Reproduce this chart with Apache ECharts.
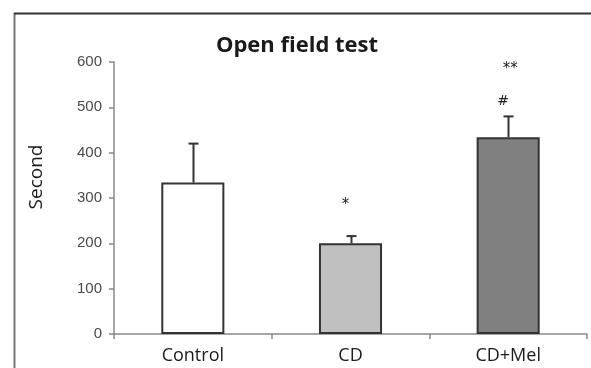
<!DOCTYPE html>
<html>
<head>
<meta charset="utf-8">
<script src="https://cdn.jsdelivr.net/npm/echarts@6/dist/echarts.min.js"></script>
<style>
    html, body { margin: 0; padding: 0; background: #fff; }
    #chart { width: 591px; height: 368px; }
</style>
</head>
<body>
<div id="chart"></div>
<script>
// data
const groups = ['Control', 'CD', 'CD+Mel']
const means = [334, 200, 434]
const errTop = [420, 216, 480]
const barColors = ['#ffffff', '#c0c0c0', '#808080']
const yTicks = [0, 100, 200, 300, 400, 500, 600]

// significance marks
const markGroup = ['CD', 'CD+Mel', 'CD+Mel']
const markText = ['*', '#', '**']
const markY = [290, 513, 592]

const el = document.getElementById('chart')
const chart = echarts.init(el)

const option = {
    animation: false,
    title: {
        text: 'Open field test',
        left: 292,
        top: 30,
        textAlign: 'center',
        textStyle: {
            fontFamily: 'Open Sans',
            fontWeight: 'bold',
            fontSize: 22,
            color: '#1a1a1a'
        }
    },
    grid: {
        left: 114,
        right: 4,
        top: 62,
        bottom: 34
    },
    graphic: [
        // outer frame of the figure panel
        {
            type: 'line',
            shape: { x1: 14.5, y1: 13, x2: 14.5, y2: 368 },
            style: { stroke: '#777', lineWidth: 2 }
        },
        {
            type: 'line',
            shape: { x1: 14, y1: 13.5, x2: 591, y2: 13.5 },
            style: { stroke: '#333', lineWidth: 2 }
        },
        {
            type: 'text',
            x: 37,
            y: 177,
            rotation: Math.PI / 2,
            style: {
                text: 'Second',
                fontFamily: 'Open Sans',
                fontSize: 19,
                fill: '#1a1a1a',
                align: 'center',
                verticalAlign: 'middle'
            }
        }
    ],
    xAxis: {
        type: 'category',
        data: groups,
        axisLine: { lineStyle: { color: '#888', width: 1.5 } },
        axisTick: { show: true, length: 5, lineStyle: { color: '#888', width: 1.5 } },
        axisLabel: {
            margin: 13,
            fontFamily: 'Open Sans',
            fontSize: 18,
            color: '#1a1a1a'
        }
    },
    yAxis: {
        type: 'value',
        min: yTicks[0],
        max: yTicks[yTicks.length - 1],
        interval: 100,
        splitLine: { show: false },
        axisLine: { show: true, lineStyle: { color: '#888', width: 1.5 } },
        axisTick: { show: true, length: 5, lineStyle: { color: '#888', width: 1.5 } },
        axisLabel: {
            margin: 12,
            fontFamily: 'Liberation Sans',
            fontSize: 15,
            color: '#4a4a4a'
        }
    },
    series: [
        {
            type: 'bar',
            barWidth: '40%',
            data: means.map((v, i) => ({
                value: v,
                itemStyle: { color: barColors[i] }
            })),
            itemStyle: { borderColor: '#333', borderWidth: 2 },
            z: 2
        },
        {
            // error bars (upper only)
            type: 'custom',
            z: 3,
            data: means.map((v, i) => [i, v, errTop[i]]),
            renderItem: function (params, api) {
                const base = api.coord([api.value(0), api.value(1)])
                const top = api.coord([api.value(0), api.value(2)])
                const x = Math.round(base[0]) + 0.5
                const st = { stroke: '#333', lineWidth: 2 }
                return {
                    type: 'group',
                    children: [
                        { type: 'line', shape: { x1: x, y1: base[1], x2: x, y2: top[1] }, style: st },
                        { type: 'line', shape: { x1: x - 5, y1: top[1], x2: x + 5, y2: top[1] }, style: st }
                    ]
                }
            }
        },
        {
            // significance marks
            type: 'custom',
            z: 4,
            data: markGroup.map((g, i) => [groups.indexOf(g), markY[i], i]),
            renderItem: function (params, api) {
                const p = api.coord([api.value(0), api.value(1)])
                const txt = markText[api.value(2)]
                const dx = txt === '**' ? 2 : -5
                return {
                    type: 'text',
                    x: p[0] + dx,
                    y: p[1] + (txt === '#' ? 0 : 3),
                    style: {
                        text: txt,
                        fontFamily: 'DejaVu Sans',
                        fontSize: txt === '#' ? 14 : 15,
                        fill: '#222',
                        align: 'center',
                        verticalAlign: 'middle'
                    }
                }
            }
        }
    ]
}

chart.setOption(option)
window.onresize = function () {
    chart.resize()
}
</script>
</body>
</html>
